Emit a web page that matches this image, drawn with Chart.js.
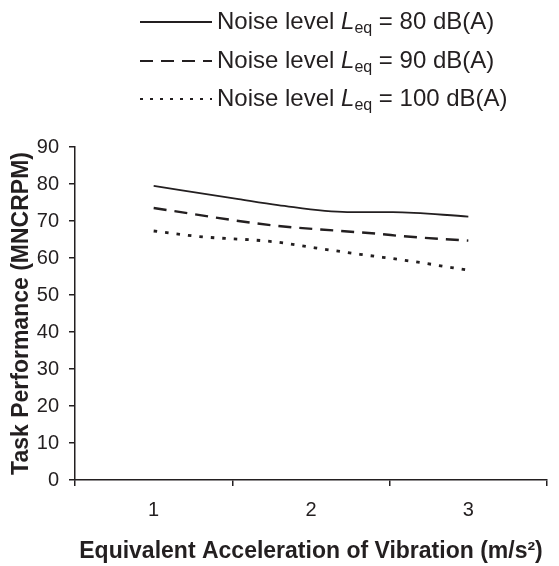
<!DOCTYPE html>
<html>
<head>
<meta charset="utf-8">
<script src="https://cdn.jsdelivr.net/npm/chart.js@4.4.1/dist/chart.umd.min.js"></script>
<style>html,body{margin:0;padding:0;background:#fff;}canvas{display:block;}</style>
</head>
<body>
<canvas id="c" width="559" height="566"></canvas>
<script>
// ---- data ----
const xTickValues = [1, 2, 3];
const xTickLabels = ['1', '2', '3'];
const yTickStep = 10;

const accel80 = [1.0, 1.54, 1.79, 2.23, 2.52, 3.0];
const perf80  = [79.5, 75.9, 74.3, 72.4, 72.4, 71.2];

const accel90 = [1.0, 1.76, 2.19, 2.44, 2.58, 3.0];
const perf90  = [73.5, 68.8, 67.3, 66.5, 65.9, 64.7];

const accel100 = [1.0, 1.29, 1.76, 2.0, 2.31, 2.61, 3.0];
const perf100  = [67.3, 65.8, 64.4, 62.9, 61.0, 59.3, 56.7];

const noiseLevels = ['80', '90', '100'];
const xTitle = 'Equivalent Acceleration of Vibration (m/s\u00B2)';
const yTitle = 'Task Performance (MNCRPM)';

// ---- style ----
const ink = '#231f20';
const FONT = '"Liberation Sans", Arial, Helvetica, sans-serif';

function pts(xs, ys) { return xs.map((x, i) => ({ x: x, y: ys[i] })); }

const datasets = [
  { label: 'Noise level Leq = ' + noiseLevels[0] + ' dB(A)', data: pts(accel80, perf80), borderColor: ink, borderWidth: 1.8, borderDash: [] },
  { label: 'Noise level Leq = ' + noiseLevels[1] + ' dB(A)', data: pts(accel90, perf90), borderColor: ink, borderWidth: 2.4, borderDash: [13, 8] },
  { label: 'Noise level Leq = ' + noiseLevels[2] + ' dB(A)', data: pts(accel100, perf100), borderColor: ink, borderWidth: 2.8, borderDash: [3.5, 8] }
].map(d => Object.assign(d, { pointRadius: 0, fill: false, tension: 0.3, cubicInterpolationMode: 'monotone' }));

const legendRows = [22, 61, 99];

const legendPlugin = {
  id: 'customLegend',
  afterDraw(chart) {
    const ctx = chart.ctx;
    chart.data.datasets.forEach((ds, i) => {
      const y = legendRows[i];
      ctx.save();
      ctx.strokeStyle = ds.borderColor;
      ctx.lineWidth = Math.min(ds.borderWidth, 2.2);
      ctx.setLineDash(i === 2 ? [3, 7] : (ds.borderDash || []));
      ctx.beginPath();
      ctx.moveTo(140, y);
      ctx.lineTo(212, y);
      ctx.stroke();
      ctx.setLineDash([]);
      ctx.fillStyle = ink;
      ctx.textBaseline = 'alphabetic';
      ctx.textAlign = 'left';
      const base = y + 7;
      let x = 217;
      ctx.font = '24px ' + FONT;
      ctx.fillText('Noise level ', x, base);
      x += ctx.measureText('Noise level ').width;
      ctx.font = 'italic 24px ' + FONT;
      ctx.fillText('L', x, base);
      x += ctx.measureText('L').width;
      ctx.font = '16px ' + FONT;
      ctx.fillText('eq', x, base + 4);
      x += ctx.measureText('eq').width;
      ctx.font = '24px ' + FONT;
      ctx.fillText(' = ' + noiseLevels[i] + ' dB(A)', x, base);
      ctx.restore();
    });
  }
};

new Chart(document.getElementById('c'), {
  type: 'line',
  data: { datasets: datasets },
  plugins: [legendPlugin],
  options: {
    responsive: false,
    animation: false,
    layout: { padding: { top: 147, right: 8, left: 0, bottom: 0 } },
    plugins: { legend: { display: false }, tooltip: { enabled: false } },
    scales: {
      x: {
        type: 'linear',
        min: 0.5,
        max: 3.5,
        afterBuildTicks: (s) => {
          const t = [];
          for (let v = 0.5; v <= 3.5001; v += 0.5) t.push({ value: Math.round(v * 10) / 10 });
          s.ticks = t;
        },
        ticks: {
          autoSkip: false,
          maxRotation: 0,
          padding: 12,
          color: ink,
          font: { family: FONT, size: 20 },
          callback: (v) => { const i = xTickValues.indexOf(v); return i >= 0 ? xTickLabels[i] : ''; }
        },
        grid: {
          drawOnChartArea: false,
          drawTicks: true,
          tickLength: 6,
          lineWidth: 1.5,
          color: (c) => (c.tick && Number.isInteger(c.tick.value)) ? 'rgba(0,0,0,0)' : ink
        },
        border: { display: true, color: ink, width: 1.5 },
        title: { display: true, text: xTitle, color: ink, font: { family: FONT, size: 23, weight: 'bold' }, padding: { top: 0, bottom: 1 } },
        afterFit: (s) => { s.height = 86; }
      },
      y: {
        min: 0,
        max: 90,
        ticks: { stepSize: yTickStep, padding: 10, color: ink, font: { family: FONT, size: 20 } },
        grid: { drawOnChartArea: false, drawTicks: true, tickLength: 6, lineWidth: 1.5, color: ink },
        border: { display: true, color: ink, width: 1.5 },
        title: { display: true, text: yTitle, color: ink, font: { family: FONT, size: 23, weight: 'bold' }, padding: { top: 8, bottom: 0 } },
        afterFit: (s) => { s.width = 75; }
      }
    }
  }
});
</script>
</body>
</html>
